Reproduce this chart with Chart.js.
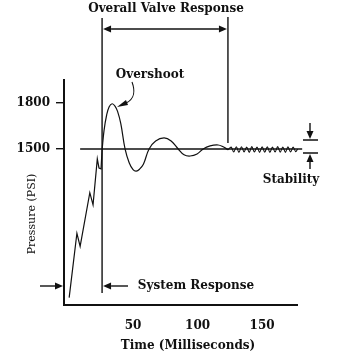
<!DOCTYPE html>
<html>
<head>
<meta charset="utf-8">
<script src="https://cdn.jsdelivr.net/npm/chart.js@4/dist/chart.umd.min.js"></script>
<style>
  body { margin: 0; background: #fff; }
  canvas { display: block; }
</style>
</head>
<body>
<canvas id="valveChart" width="339" height="361"></canvas>
<script>
// time (ms) / pressure (PSI)
const riseTime = [0.5, 6.5, 9, 16.5, 19, 22.3, 23.6, 25.2, 26];
const risePsi = [530, 950, 865, 1215, 1135, 1435, 1376, 1370, 1493];

const waveTime = [26, 27.5, 29.5, 31.5, 33.8, 36, 38, 40.5, 43.8, 47, 50, 52.5, 55, 58, 62.4, 67.5, 74, 79.5, 85, 89.5, 94.2, 99.6, 104.3, 109.7, 115.9, 119.8, 123.6];
const wavePsi = [1493, 1620, 1720, 1775, 1795, 1780, 1745, 1665, 1500, 1410, 1365, 1356, 1368, 1400, 1500, 1552, 1572, 1552, 1500, 1462, 1454, 1467, 1500, 1520, 1526, 1514, 1495];

const rippleTime = [123.6, 126, 128, 130, 132, 134, 136, 138, 140, 142, 144, 146, 148, 150, 152, 154, 156, 158, 160, 162, 164, 166, 168, 170, 172, 174, 176, 177.5];
const ripplePsi = [1495, 1512, 1480, 1514, 1478, 1514, 1481, 1512, 1478, 1515, 1480, 1513, 1478, 1514, 1479, 1514, 1478, 1512, 1480, 1515, 1479, 1513, 1478, 1514, 1480, 1512, 1482, 1500];

const setPointTime = [9, 181];
const setPointPsi = [1500, 1500];

const xTicks = [50, 100, 150];
const yTicks = [1500, 1800];

const responseStart = 26;
const responseEnd = 123.5;

const ink = '#111';
const serif = "'DejaVu Serif', serif";

const toPoints = (xs, ys) => xs.map((t, i) => ({ x: t, y: ys[i] }));

function arrow(ctx, x1, y1, x2, y2) {
    const a = Math.atan2(y2 - y1, x2 - x1);
    const len = 8, w = 3.5;
    const bx = x2 - len * Math.cos(a), by = y2 - len * Math.sin(a);
    ctx.beginPath();
    ctx.moveTo(x1, y1);
    ctx.lineTo(bx, by);
    ctx.stroke();
    ctx.beginPath();
    ctx.moveTo(x2, y2);
    ctx.lineTo(bx + w * Math.sin(a), by - w * Math.cos(a));
    ctx.lineTo(bx - w * Math.sin(a), by + w * Math.cos(a));
    ctx.closePath();
    ctx.fill();
}

const annotations = {
    id: 'annotations',
    afterDraw(chart) {
        const { ctx, scales: { x } } = chart;
        const xs = x.getPixelForValue(responseStart);
        const xe = x.getPixelForValue(responseEnd);
        ctx.save();
        ctx.strokeStyle = ink;
        ctx.fillStyle = ink;
        ctx.lineWidth = 1.4;

        // response markers
        ctx.beginPath();
        ctx.moveTo(xs, 18); ctx.lineTo(xs, 293);
        ctx.moveTo(xe, 17); ctx.lineTo(xe, 143);
        ctx.stroke();
        arrow(ctx, (xs + xe) / 2, 29, xs + 1, 29);
        arrow(ctx, (xs + xe) / 2, 29, xe - 1, 29);

        // system response arrows
        arrow(ctx, 40, 286, 63, 286);
        arrow(ctx, 128, 286, xs + 1, 286);

        // stability arrows
        ctx.beginPath();
        ctx.moveTo(303, 140); ctx.lineTo(318, 140);
        ctx.moveTo(303, 153); ctx.lineTo(318, 153);
        ctx.stroke();
        arrow(ctx, 310, 123, 310, 139);
        arrow(ctx, 310, 169, 310, 154);

        // overshoot pointer
        ctx.lineWidth = 1.1;
        ctx.beginPath();
        ctx.moveTo(132, 82);
        ctx.bezierCurveTo(135, 90, 135, 99, 126, 103);
        ctx.stroke();
        ctx.beginPath();
        ctx.moveTo(117, 107);
        ctx.lineTo(126, 100);
        ctx.lineTo(128, 105);
        ctx.closePath();
        ctx.fill();

        // labels
        ctx.textBaseline = 'middle';
        ctx.textAlign = 'center';
        ctx.font = `bold 12px ${serif}`;
        ctx.fillText('Overall Valve Response', 166, 9);
        ctx.fillText('Overshoot', 150, 75);
        ctx.fillText('Stability', 291, 180);
        ctx.fillText('System Response', 196, 286);
        ctx.fillText('Time (Milliseconds)', 188, 346);

        ctx.translate(32, 214);
        ctx.rotate(-Math.PI / 2);
        ctx.font = `11px ${serif}`;
        ctx.fillText('Pressure (PSI)', 0, 0);
        ctx.restore();
    }
};

const ctx = document.getElementById('valveChart').getContext('2d');
new Chart(ctx, {
    type: 'line',
    data: {
        datasets: [
            { data: toPoints(setPointTime, setPointPsi), borderWidth: 1.4, clip: false },
            { data: toPoints(riseTime, risePsi), borderWidth: 1.2, tension: 0 },
            { data: toPoints(waveTime, wavePsi), borderWidth: 1.2, tension: 0.4 },
            { data: toPoints(rippleTime, ripplePsi), borderWidth: 1.1, tension: 0.3, clip: false }
        ]
    },
    options: {
        responsive: false,
        animation: false,
        layout: { padding: { top: 80, right: 42, left: 0, bottom: 0 } },
        elements: { point: { radius: 0 }, line: { borderColor: ink } },
        plugins: { legend: { display: false }, tooltip: { enabled: false } },
        scales: {
            x: {
                type: 'linear',
                min: -3.5,
                max: 177,
                afterBuildTicks: s => { s.ticks = xTicks.map(v => ({ value: v })); },
                afterFit: s => { s.height = 56; },
                grid: { display: false, drawTicks: false },
                border: { color: ink, width: 2 },
                ticks: { color: ink, padding: 14, callback: v => String(v), font: { family: serif, size: 12, weight: 'bold' } }
            },
            y: {
                min: 482,
                max: 1950,
                afterBuildTicks: s => { s.ticks = yTicks.map(v => ({ value: v })); },
                afterFit: s => { s.width = 64; },
                grid: { drawOnChartArea: false, color: ink, tickLength: 8, lineWidth: 1.4 },
                border: { color: ink, width: 2 },
                ticks: { color: ink, padding: 6, callback: v => String(v), font: { family: serif, size: 12, weight: 'bold' } }
            }
        }
    },
    plugins: [annotations]
});
</script>
</body>
</html>
